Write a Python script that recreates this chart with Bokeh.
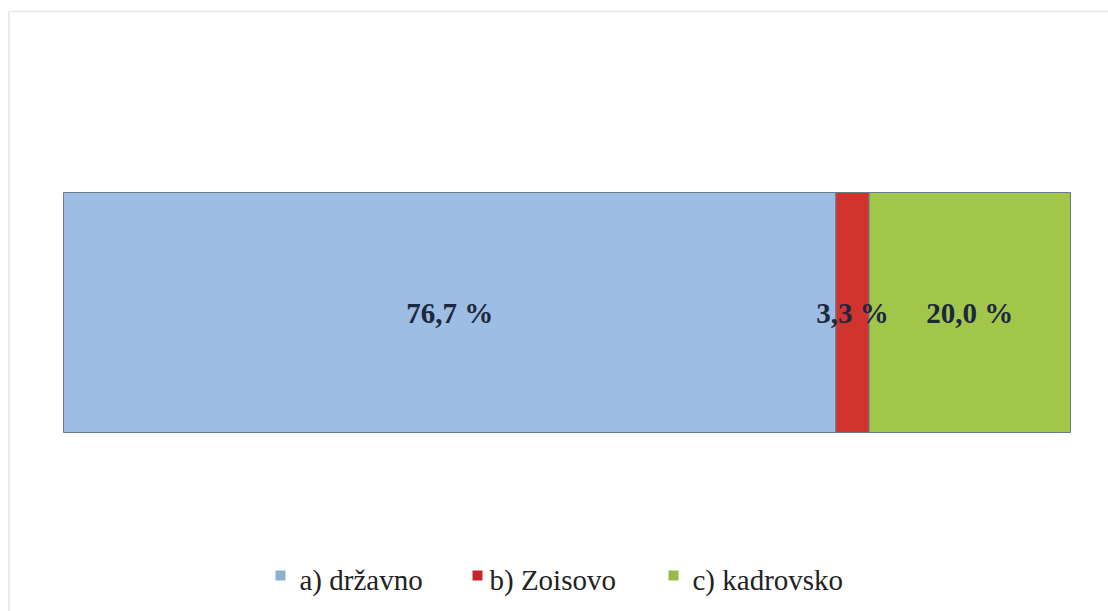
from bokeh.plotting import figure
from bokeh.models import Range1d, ColumnDataSource, Label, BoxAnnotation
from bokeh.core.properties import value
from bokeh.embed import file_html
from bokeh.resources import INLINE

categories = ["a) državno", "b) Zoisovo", "c) kadrovsko"]
values = [76.7, 3.3, 20.0]
labels = ["76,7 %", "3,3 %", "20,0 %"]
colors = ["#9dbde4", "#d1332e", "#a2c64a"]
legend_colors = ["#8fb0cc", "#c4262b", "#9bb84a"]

FONT = "'Liberation Serif', 'Times New Roman', serif"

W, H = 1108, 611
p = figure(width=W, height=H, output_backend="svg", toolbar_location=None,
           x_range=Range1d(-6.256, 103.774), y_range=Range1d(-1.2458, 1.3),
           min_border=0, min_border_left=0, min_border_right=0,
           min_border_top=0, min_border_bottom=0)
p.axis.visible = False
p.grid.visible = False
p.outline_line_color = None
p.background_fill_color = "white"
p.border_fill_color = "white"

lefts = []
acc = 0.0
for v in values:
    lefts.append(acc)
    acc += v
rights = [l + v for l, v in zip(lefts, values)]
centers = [(l + r) / 2 for l, r in zip(lefts, rights)]

for i, c in enumerate(categories):
    src = ColumnDataSource(dict(y=[0], left=[lefts[i]], right=[rights[i]]))
    p.hbar(y="y", left="left", right="right", height=1.0, source=src,
           fill_color=colors[i], line_color="#6d7a88", line_width=1,
           name=c)

lab_src = ColumnDataSource(dict(x=centers, y=[0, 0, 0], t=labels))
p.text(x="x", y="y", text="t", source=lab_src, text_align="center",
       text_baseline="middle", text_font=value(FONT),
       text_font_style="bold", text_font_size="29px", text_color="#1c2740")

# legend (manual, serif font), positions in screen px (y from bottom)
leg_square_x = [275, 472, 668]
leg_text_x = [299, 489, 692]
for i, c in enumerate(categories):
    sq = BoxAnnotation(left=leg_square_x[i], right=leg_square_x[i] + 10,
                       bottom=31, top=41,
                       left_units="screen", right_units="screen",
                       top_units="screen", bottom_units="screen",
                       fill_color=legend_colors[i], fill_alpha=1.0,
                       line_color=None)
    p.add_layout(sq)
    lab = Label(x=leg_text_x[i], y=32, x_units="screen", y_units="screen",
                text=c, text_font=FONT, text_font_size="29px",
                text_color="#222222", text_baseline="alphabetic",
                text_align="left")
    p.add_layout(lab)

border = BoxAnnotation(left=8.5, right=1400, top=600, bottom=-100,
                       left_units="screen", right_units="screen",
                       top_units="screen", bottom_units="screen",
                       fill_color=None, fill_alpha=0, line_color="#bbbbbb", line_width=2)
p.add_layout(border)

open("out.html", "w").write(file_html(p, INLINE))
